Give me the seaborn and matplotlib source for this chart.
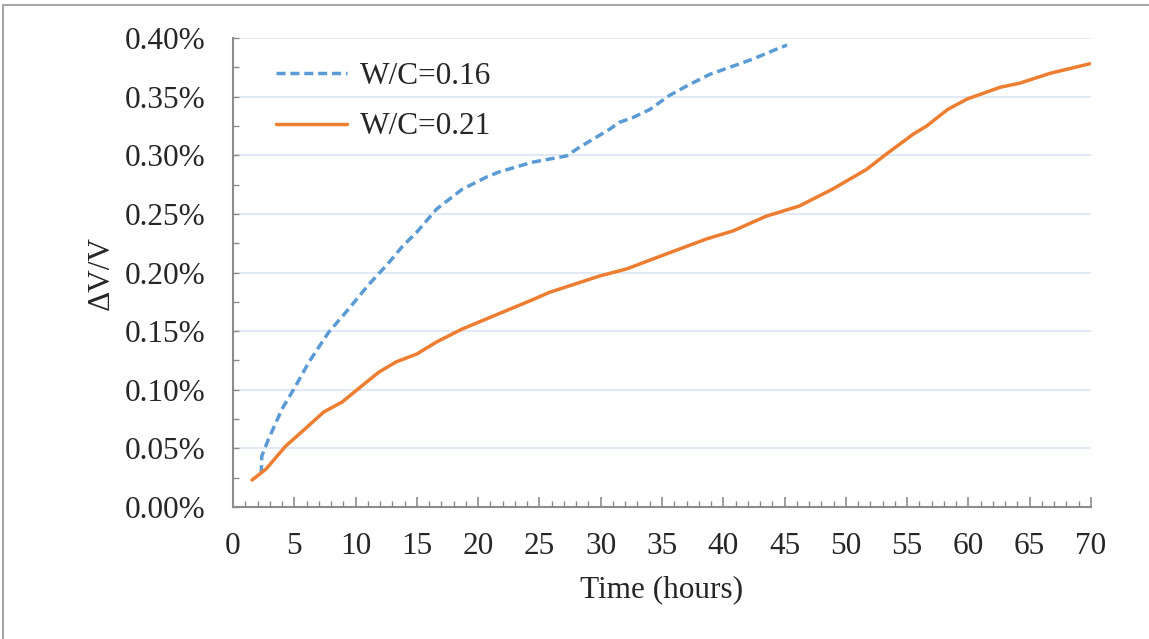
import numpy as np
import pandas as pd
import seaborn as sns
import matplotlib
matplotlib.use("Agg")
import matplotlib.pyplot as plt
from matplotlib.ticker import MultipleLocator, FuncFormatter
from matplotlib.lines import Line2D

# Data (time in hours, dV/V in %)
t_016 = [2.3, 2.35, 2.9, 4.0, 5.1, 6.2, 7.8, 9.2, 11.1, 12.6, 13.8, 15.0, 16.6, 18.7, 20.7,
         21.7, 24.4, 27.2, 28.3, 30.7, 31.5, 32.6, 34.0, 35.6, 37.0, 38.9, 40.8, 42.4, 44.0, 45.2]
v_016 = [0.028, 0.0435, 0.058, 0.0836, 0.103, 0.1237, 0.149, 0.166, 0.190, 0.207, 0.222, 0.2345,
         0.254, 0.271, 0.2815, 0.2857, 0.294, 0.2994, 0.307, 0.322, 0.328, 0.332, 0.339, 0.351,
         0.359, 0.369, 0.376, 0.382, 0.389, 0.394]

t_021 = [1.55, 2.7, 4.3, 5.6, 7.4, 8.9, 10.9, 11.9, 13.3, 15.0, 16.6, 18.7, 21.5, 24.2, 25.8,
         29.9, 32.1, 35.4, 38.6, 40.8, 43.5, 46.2, 48.9, 51.7, 53.3, 55.5, 56.6, 58.3, 59.9,
         62.6, 64.2, 66.7, 69.9]
v_021 = [0.023, 0.0324, 0.052, 0.064, 0.081, 0.0895, 0.1066, 0.115, 0.1237, 0.1305, 0.1407,
         0.1518, 0.164, 0.1757, 0.183, 0.197, 0.203, 0.216, 0.2285, 0.2355, 0.248, 0.2567,
         0.271, 0.288, 0.301, 0.318, 0.325, 0.339, 0.348, 0.358, 0.3615, 0.370, 0.378]

labels = ["W/C=0.16", "W/C=0.21"]
x_ticks = list(range(0, 75, 5))
y_ticks = [0.00, 0.05, 0.10, 0.15, 0.20, 0.25, 0.30, 0.35, 0.40]

sns.set_theme(style="white")
plt.rcParams['font.family'] = ['Liberation Serif', 'DejaVu Serif']

FS = 22.5

fig = plt.figure(figsize=(11.49, 6.39), dpi=100)
ax = fig.add_axes([233/1149, 1 - 507/639, (1091 - 233)/1149, (507 - 38)/639])

blue = "#5B9BD5"
orange = "#ED7D31"

df1 = pd.DataFrame({"t": t_016, "v": v_016})
df2 = pd.DataFrame({"t": t_021, "v": v_021})
sns.lineplot(data=df1, x="t", y="v", ax=ax, color=blue, linewidth=2.5,
             label=labels[0], sort=False)
sns.lineplot(data=df2, x="t", y="v", ax=ax, color=orange, linewidth=2.5,
             label=labels[1], sort=False)
ax.lines[0].set_dashes([2.6, 1.4])
ax.lines[0].set_dash_capstyle("butt")

ax.set_xlim(0, 70)
ax.set_ylim(0, 0.40)
ax.set_xticks(x_ticks)
ax.set_yticks(y_ticks)
ax.xaxis.set_minor_locator(MultipleLocator(1))
ax.yaxis.set_minor_locator(MultipleLocator(0.025))
ax.yaxis.set_major_formatter(FuncFormatter(lambda v, p: f"{v:.2f}%"))

ax.grid(True, axis="y", which="major", color="#DCE6F2", linewidth=1.2)
ax.set_axisbelow(True)
for s in ["top", "right"]:
    ax.spines[s].set_visible(False)
for s in ["left", "bottom"]:
    ax.spines[s].set_color("#8C8C8C")
    ax.spines[s].set_linewidth(1.5)

ax.tick_params(axis="x", which="major", direction="in", length=7, width=1.2,
               color="#8C8C8C", labelsize=FS, pad=18, bottom=True)
ax.tick_params(axis="x", which="minor", direction="in", length=4.5, width=1.0,
               color="#8C8C8C", bottom=True)
ax.tick_params(axis="y", which="both", direction="in", length=4, width=1.0,
               color="#8C8C8C", labelsize=FS, pad=20, left=True)

ax.set_xlabel("Time (hours)", fontsize=FS, labelpad=10)
ax.set_ylabel("ΔV/V", fontsize=FS, labelpad=6)

leg = ax.legend(loc="upper left", bbox_to_anchor=(0.035, 0.975), frameon=False,
                fontsize=FS, handlelength=2.3, handletextpad=0.4, labelspacing=0.68,
                borderaxespad=0.0)

# Outer frame (top and left edges only, as in the reference)
fig.add_artist(Line2D([3/1149, 1], [1 - 5/639, 1 - 5/639], transform=fig.transFigure,
                      color="#A6A6A6", linewidth=1.5))
fig.add_artist(Line2D([3/1149, 3/1149], [0, 1 - 5/639], transform=fig.transFigure,
                      color="#A6A6A6", linewidth=1.5))

fig.savefig("out.png", dpi=100)
